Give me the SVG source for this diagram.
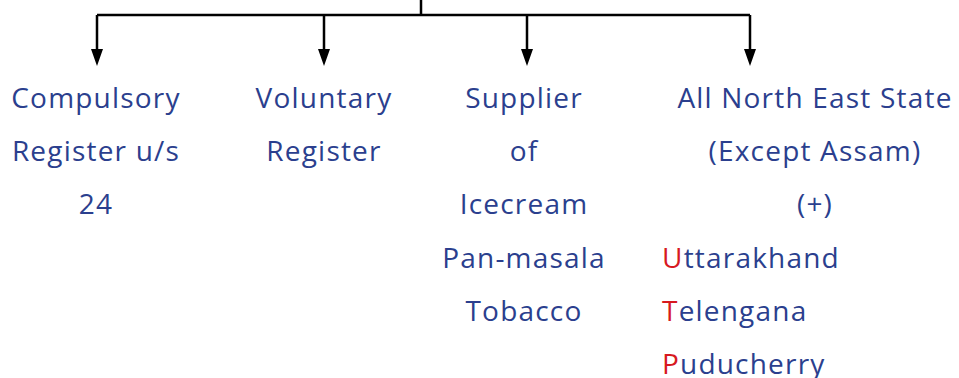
<svg xmlns="http://www.w3.org/2000/svg" width="959" height="378" viewBox="0 0 959 378">
<style>
text{font-family:"Open Sans","Noto Sans",sans-serif;font-size:28px;letter-spacing:1.2px;fill:#2b3f8e}
.c{text-anchor:middle}
.r{fill:#d7191f}
.ln{stroke:#000;stroke-width:2.5;fill:none}
.ah{fill:#000}
</style>
<g id="connectors">
<path class="ln" d="M421,0 V15 M97,15 H750"/>
<path class="ln" d="M97,15 V52 M324,15 V52 M527,15 V52 M750,15 V52"/>
<path class="ah" d="M91,49 L103,49 L97,66 Z M318,49 L330,49 L324,66 Z M521,49 L533,49 L527,66 Z M744,49 L756,49 L750,66 Z"/>
</g>
<g id="n1">
<text class="c" x="96" y="108">Compulsory</text>
<text class="c" x="96" y="161">Register u/s</text>
<text class="c" x="96" y="214">24</text>
</g>
<g id="n2">
<text class="c" x="324" y="108">Voluntary</text>
<text class="c" x="324" y="161">Register</text>
</g>
<g id="n3">
<text class="c" x="524" y="108">Supplier</text>
<text class="c" x="524" y="161">of</text>
<text class="c" x="524" y="214">Icecream</text>
<text class="c" x="524" y="268">Pan-masala</text>
<text class="c" x="524" y="321">Tobacco</text>
</g>
<g id="n4">
<text class="c" x="815" y="108">All North East State</text>
<text class="c" x="815" y="161">(Except Assam)</text>
<text class="c" x="815" y="214">(+)</text>
<text x="662" y="268"><tspan class="r">U</tspan>ttarakhand</text>
<text x="662" y="321"><tspan class="r">T</tspan>elengana</text>
<text x="662" y="374"><tspan class="r">P</tspan>uducherry</text>
</g>
</svg>
